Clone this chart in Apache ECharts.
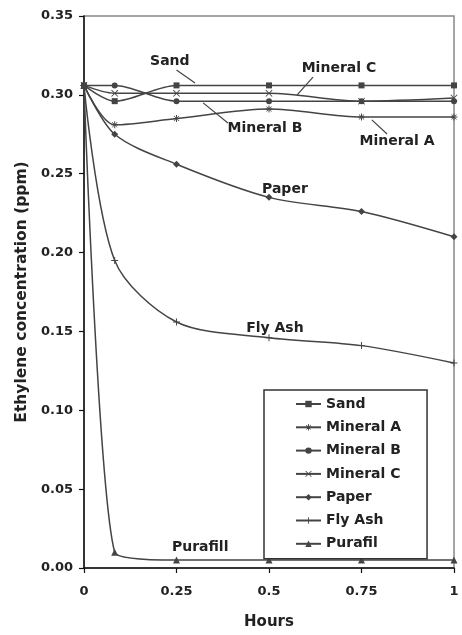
<!DOCTYPE html>
<html>
<head>
<meta charset="utf-8">
<script src="https://cdn.jsdelivr.net/npm/echarts@6/dist/echarts.min.js"></script>
<style>
html,body{margin:0;padding:0;background:#fff;}
#chart{width:462px;height:635px;}
</style>
</head>
<body>
<div id="chart"></div>
<script>
// Time points (hours)
var hours = [0, 0.083, 0.25, 0.5, 0.75, 1];
// Ethylene concentration (ppm) per sorbent
var sand     = [0.306, 0.296, 0.306, 0.306, 0.306, 0.306];
var mineralA = [0.306, 0.281, 0.285, 0.291, 0.286, 0.286];
var mineralB = [0.306, 0.306, 0.296, 0.296, 0.296, 0.296];
var mineralC = [0.306, 0.301, 0.301, 0.301, 0.296, 0.298];
var paper    = [0.306, 0.275, 0.256, 0.235, 0.226, 0.210];
var flyAsh   = [0.306, 0.195, 0.156, 0.146, 0.141, 0.130];
var purafil  = [0.306, 0.010, 0.005, 0.005, 0.005, 0.005];
var seriesNames = ['Sand', 'Mineral A', 'Mineral B', 'Mineral C', 'Paper', 'Fly Ash', 'Purafil'];
// In-plot annotation texts (data coordinates) and pointer lines
var annotations = [
  {text: 'Sand',      at: [0.232, 0.3215], pointer: [[0.25, 0.3157], [0.30, 0.3075]]},
  {text: 'Mineral C', at: [0.689, 0.317],  pointer: [[0.619, 0.3113], [0.576, 0.300]]},
  {text: 'Mineral B', at: [0.489, 0.279],  pointer: [[0.389, 0.2822], [0.322, 0.2949]]},
  {text: 'Mineral A', at: [0.846, 0.2708], pointer: [[0.819, 0.2752], [0.778, 0.2841]]},
  {text: 'Paper',     at: [0.543, 0.2403], pointer: null},
  {text: 'Fly Ash',   at: [0.516, 0.152],  pointer: null},
  {text: 'Purafill',  at: [0.314, 0.0133], pointer: null}
];

var FONT = 'DejaVu Sans';
var INK = '#222';
var LINE = '#444';

var symbols = {
  'Sand': 'rect',
  'Mineral A': 'path://M4.3,0h1.4v10h-1.4z M0,4.3h10v1.4h-10z M1,1.7L1.7,1L9,8.3L8.3,9z M9,1.7L8.3,1L1,8.3L1.7,9z',
  'Mineral B': 'circle',
  'Mineral C': 'path://M1,1.7L1.7,1L9,8.3L8.3,9z M9,1.7L8.3,1L1,8.3L1.7,9z',
  'Paper': 'diamond',
  'Fly Ash': 'path://M4.3,0h1.4v10h-1.4z M0,4.3h10v1.4h-10z',
  'Purafil': 'triangle'
};
var smoothness = {'Purafil': 0.2};
var values = [sand, mineralA, mineralB, mineralC, paper, flyAsh, purafil];

var series = seriesNames.map(function (name, i) {
  return {
    name: name,
    type: 'line',
    smooth: smoothness[name] || 0.3,
    data: hours.map(function (h, j) { return [h, values[i][j]]; }),
    symbol: symbols[name],
    symbolSize: (name === 'Sand' || name === 'Mineral B') ? 6 : 7,
    lineStyle: {color: LINE, width: 1.5},
    itemStyle: {color: LINE, borderColor: LINE, borderWidth: 0},
    z: 3
  };
});

// annotation series (labels + pointers), not in legend
series.push({
  name: '__annot',
  type: 'line',
  data: [],
  silent: true,
  markPoint: {
    symbol: 'circle',
    symbolSize: 0,
    data: annotations.map(function (a) {
      return {coord: a.at, value: a.text,
        label: {show: true, position: 'inside', formatter: a.text,
          fontFamily: FONT, fontWeight: 'bold', fontSize: 14, color: INK}};
    })
  },
  markLine: {
    symbol: ['none', 'none'],
    silent: true,
    label: {show: false},
    lineStyle: {color: LINE, width: 1.2, type: 'solid'},
    data: annotations.filter(function (a) { return a.pointer; }).map(function (a) {
      return [{coord: a.pointer[0]}, {coord: a.pointer[1]}];
    })
  }
});

var chart = echarts.init(document.getElementById('chart'), null, {renderer: 'canvas'});
chart.setOption({
  animation: false,
  backgroundColor: '#fff',
  grid: {left: 84, right: 8, top: 16, bottom: 67, containLabel: false, outerBoundsMode: 'none',
    show: true, borderColor: '#888', borderWidth: 1.5, backgroundColor: 'transparent'},
  legend: {
    data: seriesNames,
    orient: 'vertical',
    left: 264, top: 390,
    padding: [7, 26, 8, 31],
    itemGap: 9.3,
    itemWidth: 25,
    itemHeight: 8,
    borderColor: '#333',
    borderWidth: 1.5,
    backgroundColor: '#fff',
    inactiveColor: LINE,
    selectedMode: false,
    textStyle: {fontFamily: FONT, fontWeight: 'bold', fontSize: 14, color: INK, lineHeight: 14}
  },
  xAxis: {
    type: 'value', min: 0, max: 1, interval: 0.25,
    name: 'Hours', nameLocation: 'middle', nameGap: 47,
    nameTextStyle: {fontFamily: FONT, fontWeight: 'bold', fontSize: 15, color: INK},
    axisLine: {show: true, onZero: false, lineStyle: {color: '#111', width: 1.5}},
    axisTick: {show: true, inside: false, length: 5, lineStyle: {color: '#111', width: 1.2}},
    axisLabel: {margin: 17, fontFamily: FONT, fontWeight: 'bold', fontSize: 13, color: INK},
    splitLine: {show: false}
  },
  yAxis: {
    type: 'value', min: 0, max: 0.35, interval: 0.05,
    name: 'Ethylene concentration (ppm)', nameLocation: 'middle', nameGap: 54,
    nameTextStyle: {fontFamily: FONT, fontWeight: 'bold', fontSize: 15.5, color: INK},
    axisLine: {show: true, onZero: false, lineStyle: {color: '#111', width: 1.5}},
    axisTick: {show: true, inside: false, length: 5, lineStyle: {color: '#111', width: 1.2}},
    axisLabel: {margin: 11, fontFamily: FONT, fontWeight: 'bold', fontSize: 13, color: INK,
      formatter: function (v) { return v.toFixed(2); }},
    splitLine: {show: false}
  },
  series: series
});
</script>
</body>
</html>
